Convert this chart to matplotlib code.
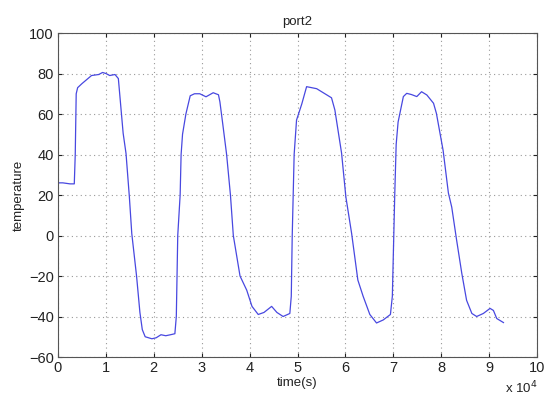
import matplotlib
matplotlib.use('Agg')
import matplotlib.pyplot as plt
from matplotlib.ticker import FuncFormatter

# time in seconds, temperature
time_s = [0, 50, 1000, 2500, 3400, 3600, 3800, 4100, 5000, 6000, 7000, 8500, 9300,
          10000, 10800, 11900, 12600, 13600, 14200, 14900, 15400, 16400, 17100, 17600,
          18200, 19600, 20500, 21500, 22500, 23500, 24400, 24700, 25000, 25500,
          25700, 26000, 26700, 27600, 28500, 29600, 30900, 32400, 33500, 33800, 34400,
          35200, 36000, 36600, 38000, 39400, 40500, 41800, 43000, 44600, 45700, 47000,
          48400, 48700, 48900, 49300, 49800, 50900, 51900, 54000, 57100, 57800, 59200,
          60100, 61300, 62600, 63700, 65100, 66500, 67900, 69400, 69800, 70300, 70600,
          71000, 72100, 72800, 73800, 74900, 75900, 77000, 78400, 79000, 80400, 81500,
          82200, 83200, 84300, 85300, 86400, 87400, 88800, 90200, 90900, 91600, 93000]
temp = [0, 26, 26, 25.5, 25.5, 40, 70, 73, 75, 77, 79, 79.5, 80.5,
        80, 79, 79.5, 77.5, 50.5, 40.5, 19, 1, -20, -38, -46.5,
        -50, -51, -50.5, -49, -49.5, -49, -48.5, -40, 0, 20,
        40, 50, 60, 69, 70, 70, 68.5, 70.5, 69.5, 66, 55,
        40, 20, 0, -20, -27, -35, -39, -38, -35, -38, -40,
        -38.5, -30, 0, 40, 57, 65, 73.5, 72.5, 68, 62, 40.7,
        19, 1, -22, -30, -39, -43.2, -41.7, -39, -30, 20, 45,
        56, 68.6, 70.2, 69.6, 68.6, 71, 69.4, 65.3, 60.3, 42, 21,
        14, -2, -18.7, -32, -38.5, -40, -38.5, -36, -37, -41, -43]

plt.rcParams['font.family'] = ['Liberation Sans', 'DejaVu Sans']

fig = plt.figure(figsize=(5.45, 3.98), dpi=100)
ax = fig.add_axes([58 / 545, 1 - 357 / 398, 479 / 545, 324 / 398])

ax.plot(time_s, temp, color='#4848e0', linewidth=0.9)

ax.set_xlim(0, 100000)
ax.set_ylim(-60, 100)
ax.set_xticks(range(0, 100001, 10000))
ax.set_yticks(range(-60, 101, 20))
ax.xaxis.set_major_formatter(FuncFormatter(lambda v, p: f'{v / 10000:g}'))
ax.grid(True, linestyle=(0, (1, 3)), color='#999999', linewidth=0.8)
ax.tick_params(direction='in', length=3, labelsize=10.5, colors='#222222',
               top=True, right=True, pad=3)
for s in ax.spines.values():
    s.set_color('#555555')
    s.set_linewidth(0.8)

ax.set_title('port2', fontsize=9.5, color='#222222', pad=6)
ax.set_xlabel('time(s)', fontsize=9.5, color='#222222', labelpad=1)
ax.set_ylabel('temperature', fontsize=9.5, color='#222222', labelpad=3)
fig.text(538 / 545, 1 - 388 / 398, r'x 10$^4$', ha='right', va='center',
         fontsize=9.5, color='#222222')

fig.savefig('out.png', dpi=100)
